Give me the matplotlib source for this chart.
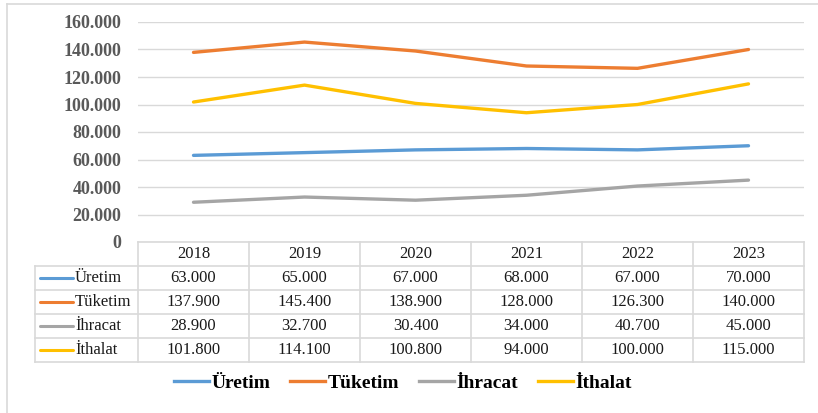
import matplotlib.pyplot as plt
import matplotlib.transforms as mtransforms
from matplotlib.lines import Line2D
from matplotlib.ticker import FuncFormatter

plt.rcParams['font.family'] = ['Liberation Serif', 'DejaVu Serif']

YEARS = ['2018', '2019', '2020', '2021', '2022', '2023']
SERIES = ['Üretim', 'Tüketim', 'İhracat', 'İthalat']
uretim = [63000, 65000, 67000, 68000, 67000, 70000]
tuketim = [137900, 145400, 138900, 128000, 126300, 140000]
ihracat = [28900, 32700, 30400, 34000, 40700, 45000]
ithalat = [101800, 114100, 100800, 94000, 100000, 115000]
VALUES = [uretim, tuketim, ihracat, ithalat]
COLORS = ['#5B9BD5', '#ED7D31', '#A5A5A5', '#FFC000']
GRID = '#D9D9D9'

W, H = 818, 413
fig = plt.figure(figsize=(W / 100, H / 100), dpi=100)

# outer chart border (only left/top visible in the crop)
fig.add_artist(Line2D([7 / W, 7 / W], [0, 1 - 4 / H], color=GRID, lw=1.2))
fig.add_artist(Line2D([7 / W, 1], [1 - 4 / H, 1 - 4 / H], color=GRID, lw=1.2))

x0, x1, ytop, ybot = 138, 804, 22, 242
ax = fig.add_axes([x0 / W, 1 - ybot / H, (x1 - x0) / W, (ybot - ytop) / H])

xs = range(len(YEARS))
for vals, col, name in zip(VALUES, COLORS, SERIES):
    ax.plot(xs, vals, color=col, lw=2.4, solid_capstyle='round', label=name)

ax.set_xlim(-0.5, len(YEARS) - 0.5)
ax.set_ylim(0, 160000)
ax.set_yticks(range(0, 160001, 20000))
ax.yaxis.set_major_formatter(FuncFormatter(
    lambda v, p: '0' if v == 0 else f'{int(v):,}'.replace(',', '.')))
for lbl in ax.get_yticklabels():
    lbl.set_fontweight('bold')
    lbl.set_color('#595959')
    lbl.set_fontsize(13)
ax.tick_params(axis='y', length=0, pad=12)
ax.set_xticks([])
ax.grid(axis='y', color=GRID, lw=1)
ax.set_axisbelow(True)
for s in ax.spines.values():
    s.set_visible(False)

# data table below the plot
row_h = 24 / (ybot - ytop)
trans = mtransforms.blended_transform_factory(ax.transData, ax.transAxes)
col_w = (x1 - x0) / len(YEARS)
xl = -0.5 - (x0 - 35) / col_w
n_rows = len(SERIES)
y_bottom = -(n_rows + 1) * row_h
lkw = dict(color=GRID, lw=1.2, transform=trans, clip_on=False)

# horizontal lines
ax.plot([-0.5, len(YEARS) - 0.5], [0, 0], **lkw)
for r in range(1, n_rows + 2):
    ax.plot([xl, len(YEARS) - 0.5], [-r * row_h, -r * row_h], **lkw)
# vertical lines
for c in range(len(YEARS) + 1):
    ax.plot([c - 0.5, c - 0.5], [0, y_bottom], **lkw)
ax.plot([xl, xl], [-row_h, y_bottom], **lkw)

tkw = dict(transform=trans, ha='center', va='center', fontsize=12,
           color='#1a1a1a', clip_on=False)
for c, yr in enumerate(YEARS):
    ax.text(c, -0.5 * row_h, yr, **tkw)
for r, (name, vals, col) in enumerate(zip(SERIES, VALUES, COLORS)):
    yc = -(r + 1.5) * row_h
    ax.plot([xl + 5 / col_w, xl + 38 / col_w], [yc, yc], color=col, lw=2.2,
            transform=trans, clip_on=False, solid_capstyle='round')
    ax.text(xl + 40 / col_w, yc, name, transform=trans, ha='left', va='center',
            fontsize=12, color='#1a1a1a', clip_on=False)
    for c, v in enumerate(vals):
        ax.text(c, yc, f'{v:,}'.replace(',', '.'), **tkw)

handles = [Line2D([], [], color=c, lw=2.4) for c in COLORS]
fig.legend(handles, SERIES, loc='center', bbox_to_anchor=(403 / W, 1 - 383 / H),
           ncol=4, frameon=False, handlelength=1.8, handletextpad=0.15,
           columnspacing=1.0,
           prop={'family': 'Liberation Serif', 'weight': 'bold', 'size': 14})

fig.savefig('out.png', dpi=100)
